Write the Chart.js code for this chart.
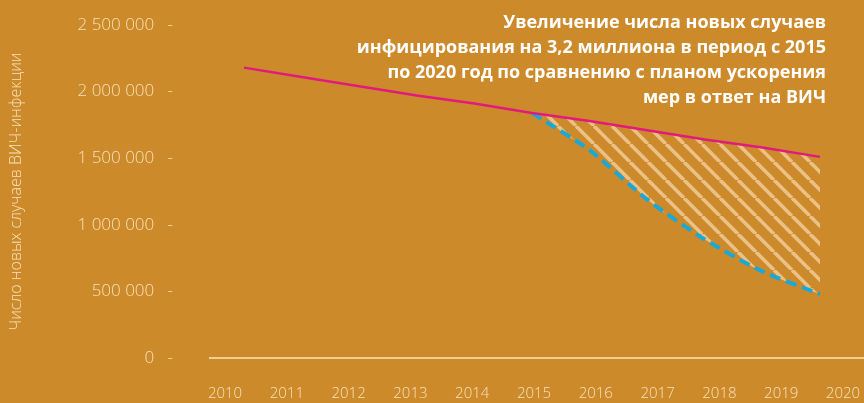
<!DOCTYPE html>
<html>
<head>
<meta charset="utf-8">
<script src="https://cdn.jsdelivr.net/npm/chart.js@4.4.1/dist/chart.umd.min.js"></script>
<style>
    html, body { margin: 0; padding: 0; background: #CD8A2A; }
    #wrap { position: relative; width: 864px; height: 403px; overflow: hidden; }
    #note {
        position: absolute; right: 38px; top: 9px;
        font-family: "Open Sans", sans-serif; font-weight: 700; font-size: 18px;
        line-height: 25px; color: #ffffff; text-align: right; white-space: nowrap;
    }
</style>
</head>
<body>
<div id="wrap">
    <canvas id="hivChart" width="864" height="403"></canvas>
    <div id="note">Увеличение числа новых случаев<br>инфицирования на 3,2 миллиона в период с 2015<br>по 2020 год по сравнению с планом ускорения<br>мер в ответ на ВИЧ</div>
</div>
<script>
// Axis labels
const yearLabels = [2010, 2011, 2012, 2013, 2014, 2015, 2016, 2017, 2018, 2019, 2020];
const yTicks = [0, 500000, 1000000, 1500000, 2000000, 2500000];

// Current trend (magenta), 2010-2020
const trendYears = [2010, 2011, 2012, 2013, 2014, 2015, 2016, 2017, 2018, 2019, 2020];
const trendValues = [2180000, 2110000, 2040000, 1970000, 1910000, 1840000, 1780000, 1710000, 1640000, 1580000, 1510000];

// Fast-track plan (dashed cyan), 2015-2020
const planYears = [2015, 2016, 2017, 2018, 2019, 2020];
const planValues = [1840000, 1560000, 1190000, 890000, 650000, 480000];

const textColor = '#F6E1B9';

function toPoints(xs, ys) {
    return xs.map((x, i) => ({ x: x, y: ys[i] }));
}

function formatNumber(v) {
    return String(v).replace(/\B(?=(\d{3})+(?!\d))/g, ' ');
}

// Diagonal hatch pattern for the gap between the two lines
function makeHatch() {
    const size = 18;
    const c = document.createElement('canvas');
    c.width = size;
    c.height = size;
    const g = c.getContext('2d');
    g.strokeStyle = '#EBC187';
    g.lineWidth = 3.6;
    [-size, 0, size].forEach(o => {
        g.beginPath();
        g.moveTo(o, 0);
        g.lineTo(o + size, size);
        g.stroke();
    });
    return g.createPattern(c, 'repeat');
}

const ctx = document.getElementById('hivChart');
const hivChart = new Chart(ctx, {
    type: 'line',
    data: {
        datasets: [
            {
                label: 'Текущая тенденция',
                data: toPoints(trendYears, trendValues),
                xAxisID: 'xd',
                borderColor: '#E2197F',
                borderWidth: 2.5,
                pointRadius: 0,
                tension: 0,
                fill: false
            },
            {
                label: 'План ускорения',
                data: toPoints(planYears, planValues),
                xAxisID: 'xd',
                borderColor: '#17A9D8',
                borderWidth: 4,
                borderDash: [11, 6],
                pointRadius: 0,
                tension: 0.25,
                fill: { target: 0 },
                backgroundColor: makeHatch()
            }
        ]
    },
    options: {
        responsive: false,
        animation: false,
        layout: { padding: { top: 25, left: 0, right: 0, bottom: 0 } },
        plugins: {
            legend: { display: false },
            tooltip: { enabled: false },
            filler: { drawTime: 'beforeDatasetsDraw' }
        },
        scales: {
            x: {
                type: 'linear',
                position: 'bottom',
                min: 2009.757,
                max: 2020.34,
                afterBuildTicks: scale => {
                    scale.ticks = yearLabels.map(v => ({ value: v }));
                },
                afterFit: scale => {
                    scale.height = 45;
                    scale.paddingLeft = 0;
                    scale.paddingRight = 0;
                },
                ticks: {
                    padding: 27,
                    color: textColor,
                    font: { family: '"Open Sans", sans-serif', size: 15, weight: '300' },
                    maxRotation: 0,
                    autoSkip: false,
                    callback: v => String(v)
                },
                grid: { drawOnChartArea: false, drawTicks: false },
                border: { display: true, color: '#EFCF98', width: 2 }
            },
            xd: {
                type: 'linear',
                display: false,
                min: 2009.41,
                max: 2020.764
            },
            y: {
                min: 0,
                max: 2500000,
                afterBuildTicks: scale => {
                    scale.ticks = yTicks.map(v => ({ value: v }));
                },
                afterFit: scale => {
                    scale.width = 210;
                    scale.paddingTop = 0;
                    scale.paddingBottom = 0;
                },
                ticks: {
                    padding: 29,
                    color: textColor,
                    font: { family: '"Open Sans", sans-serif', size: 17, weight: '300' },
                    callback: v => formatNumber(v) + '   -'
                },
                grid: { display: false },
                border: { display: false },
                title: {
                    display: true,
                    text: 'Число новых случаев ВИЧ-инфекции',
                    color: textColor,
                    font: { family: '"Open Sans", sans-serif', size: 16, weight: '300' },
                    padding: { top: 7, bottom: 0 }
                }
            }
        }
    }
});
</script>
</body>
</html>
